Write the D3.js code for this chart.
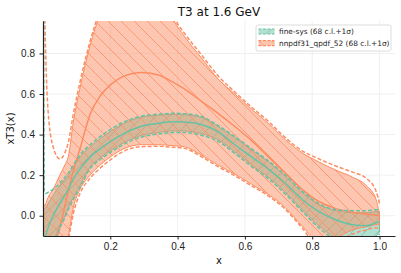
<!DOCTYPE html>
<html>
<head>
<meta charset="utf-8">
<script src="https://cdn.jsdelivr.net/npm/d3@7"></script>
<style>
  body { margin: 0; background: #fff; }
  svg { font-family: "DejaVu Sans", sans-serif; }
  .axis text { font-size: 10px; fill: #222; }
  .axis line, .axis path { stroke: #222; }
</style>
</head>
<body>
<svg id="chart"></svg>
<script>
// x grid shared by every curve
const xGrid = [0.001, 0.004, 0.008, 0.015, 0.03, 0.05, 0.065, 0.075, 0.09, 0.11, 0.14, 0.17, 0.2, 0.24, 0.29, 0.34,
    0.39, 0.42, 0.47, 0.52, 0.57, 0.62, 0.67, 0.72, 0.77, 0.82, 0.87, 0.92, 0.96, 0.99, 1.0];

// fine-sys
const fineCentral = [-0.2, -0.14, -0.1, -0.06, 0.0, 0.06, 0.1, 0.13, 0.18, 0.23, 0.29, 0.33, 0.365, 0.405, 0.44, 0.455,
    0.463, 0.462, 0.45, 0.415, 0.35, 0.29, 0.23, 0.16, 0.08, 0.02, -0.02, -0.045, -0.05, -0.035, -0.03];
const fineUp68 = [0.03, 0.035, 0.04, 0.06, 0.1, 0.15, 0.18, 0.2, 0.24, 0.29, 0.34, 0.38, 0.415, 0.455, 0.485, 0.495,
    0.5, 0.498, 0.485, 0.44, 0.385, 0.325, 0.265, 0.195, 0.115, 0.055, 0.025, 0.015, 0.015, 0.02, 0.02];
const fineLo68 = [-0.5, -0.4, -0.33, -0.25, -0.14, -0.05, 0.0, 0.04, 0.09, 0.15, 0.24, 0.285, 0.32, 0.36, 0.395, 0.41,
    0.418, 0.418, 0.405, 0.375, 0.315, 0.25, 0.19, 0.115, 0.03, -0.05, -0.11, -0.14, -0.14, -0.1, -0.08];
const fineUpStd = [1.5, 0.12, 0.11, 0.115, 0.13, 0.16, 0.19, 0.21, 0.25, 0.3, 0.35, 0.39, 0.425, 0.462, 0.49, 0.5,
    0.505, 0.503, 0.49, 0.445, 0.39, 0.33, 0.27, 0.2, 0.12, 0.06, 0.03, 0.025, 0.025, 0.03, 0.03];
const fineLoStd = [-0.52, -0.42, -0.34, -0.26, -0.15, -0.06, -0.01, 0.03, 0.08, 0.14, 0.232, 0.277, 0.312, 0.352, 0.387, 0.402,
    0.41, 0.41, 0.397, 0.367, 0.307, 0.242, 0.182, 0.107, 0.022, -0.06, -0.12, -0.15, -0.15, -0.11, -0.09];

// nnpdf31_qpdf_52
const nnCentral = [-0.6, -0.5, -0.42, -0.32, -0.18, -0.06, 0.05, 0.12, 0.22, 0.33, 0.5, 0.59, 0.645, 0.688, 0.706, 0.695,
    0.655, 0.625, 0.565, 0.505, 0.44, 0.37, 0.29, 0.21, 0.13, 0.07, 0.035, 0.017, 0.008, 0.002, 0.0];
const nnUp68 = [0.04, 0.05, 0.06, 0.09, 0.13, 0.2, 0.25, 0.29, 0.46, 0.63, 0.84, 1.0, 1.15, 1.28, 1.3, 1.18,
    0.96, 0.885, 0.78, 0.675, 0.6, 0.525, 0.455, 0.375, 0.31, 0.265, 0.225, 0.19, 0.15, 0.08, 0.0];
const nnLo68 = [-0.4, -0.38, -0.35, -0.32, -0.28, -0.22, -0.15, -0.1, 0.04, 0.13, 0.2, 0.25, 0.29, 0.33, 0.35, 0.35,
    0.345, 0.34, 0.3, 0.25, 0.205, 0.155, 0.105, 0.04, -0.05, -0.13, -0.11, -0.07, -0.055, -0.045, -0.045];
const nnUpStd = [1.5, 1.1, 0.8, 0.52, 0.34, 0.28, 0.31, 0.36, 0.5, 0.66, 0.86, 1.02, 1.17, 1.3, 1.32, 1.2,
    0.975, 0.9, 0.795, 0.69, 0.61, 0.535, 0.465, 0.385, 0.32, 0.28, 0.245, 0.215, 0.185, 0.12, 0.06];
const nnLoStd = [-0.5, -0.48, -0.45, -0.42, -0.37, -0.3, -0.18, -0.12, 0.01, 0.11, 0.185, 0.235, 0.275, 0.318, 0.34, 0.342,
    0.337, 0.332, 0.292, 0.242, 0.197, 0.147, 0.097, 0.032, -0.06, -0.15, -0.13, -0.09, -0.07, -0.06, -0.06];

const xTicks = [0.2, 0.4, 0.6, 0.8, 1.0];
const yTicks = [0.0, 0.2, 0.4, 0.6, 0.8];
const seriesNames = ["fine-sys (68 c.l.+1σ)", "nnpdf31_qpdf_52 (68 c.l.+1σ)"];

class BandChart {
    constructor(_config) {
        this.config = {
            parentElement: _config.parentElement,
            containerWidth: 401,
            containerHeight: 273,
            margin: { top: 21, right: 6, bottom: 37, left: 43 },
        };
        this.initVis();
    }

    initVis() {
        let vis = this;
        vis.width = vis.config.containerWidth - vis.config.margin.left - vis.config.margin.right;
        vis.height = vis.config.containerHeight - vis.config.margin.top - vis.config.margin.bottom;

        vis.xScale = d3.scaleLinear().domain([0, 1.046]).range([0, vis.width]);
        vis.yScale = d3.scaleLinear().domain([-0.1, 0.96]).range([vis.height, 0]);

        vis.svg = d3.select(vis.config.parentElement)
            .attr("width", vis.config.containerWidth)
            .attr("height", vis.config.containerHeight);

        const defs = vis.svg.append("defs");
        defs.append("clipPath").attr("id", "plot-clip")
            .append("rect").attr("width", vis.width).attr("height", vis.height);

        // hatches, like matplotlib '/' and '\\'
        const addHatch = (id, color, back, op) => {
            const p = defs.append("pattern").attr("id", id)
                .attr("patternUnits", "userSpaceOnUse").attr("width", 13).attr("height", 13);
            const d = back ? "M0,0L13,13M-2,11L2,15M11,-2L15,2" : "M0,13L13,0M-2,2L2,-2M11,15L15,11";
            p.append("path").attr("d", d).attr("stroke", color).attr("stroke-width", 0.8)
                .attr("stroke-opacity", op).attr("fill", "none");
        };
        addHatch("hatch-green", "#4f8a76", false, 0.45);
        addHatch("hatch-orange", "#fc8d62", true, 1);

        vis.chart = vis.svg.append("g")
            .attr("transform", `translate(${vis.config.margin.left},${vis.config.margin.top})`);

        // grid
        vis.chart.append("g").selectAll("line.gx").data(xTicks).join("line")
            .attr("x1", d => vis.xScale(d)).attr("x2", d => vis.xScale(d))
            .attr("y1", 0).attr("y2", vis.height)
            .attr("stroke", "#ececec").attr("stroke-width", 0.8);
        vis.chart.append("g").selectAll("line.gy").data(yTicks).join("line")
            .attr("y1", d => vis.yScale(d)).attr("y2", d => vis.yScale(d))
            .attr("x1", 0).attr("x2", vis.width)
            .attr("stroke", "#ececec").attr("stroke-width", 0.8);

        vis.plot = vis.chart.append("g").attr("clip-path", "url(#plot-clip)");
        vis.fillsG = vis.plot.append("g");
        vis.linesG = vis.plot.append("g");

        vis.xAxisG = vis.chart.append("g").attr("class", "axis").attr("transform", `translate(0,${vis.height})`);
        vis.yAxisG = vis.chart.append("g").attr("class", "axis");

        vis.svg.append("text")
            .attr("x", vis.config.margin.left + vis.width / 2).attr("y", 16)
            .attr("text-anchor", "middle").attr("font-size", 12).attr("fill", "#111")
            .text("T3 at 1.6 GeV");
        vis.svg.append("text")
            .attr("x", vis.config.margin.left + vis.width / 2).attr("y", 264)
            .attr("text-anchor", "middle").attr("font-size", 10).attr("fill", "#111")
            .text("x");
        vis.svg.append("text")
            .attr("transform", `translate(14,${vis.config.margin.top + vis.height / 2}) rotate(-90)`)
            .attr("text-anchor", "middle").attr("font-size", 10).attr("fill", "#111")
            .text("xT3(x)");
    }

    renderVis() {
        let vis = this;
        const series = [
            { name: seriesNames[0], color: "#66c2a5", hatch: "hatch-green",
              c: fineCentral, up: fineUp68, lo: fineLo68, upS: fineUpStd, loS: fineLoStd },
            { name: seriesNames[1], color: "#fc8d62", hatch: "hatch-orange",
              c: nnCentral, up: nnUp68, lo: nnLo68, upS: nnUpStd, loS: nnLoStd },
        ];

        const area = (s) => d3.area()
            .x((d, i) => vis.xScale(xGrid[i]))
            .y0((d, i) => vis.yScale(s.lo[i]))
            .y1((d, i) => vis.yScale(s.up[i]))
            .curve(d3.curveMonotoneX)(xGrid);
        const line = (vals) => d3.line()
            .x((d, i) => vis.xScale(xGrid[i]))
            .y((d, i) => vis.yScale(vals[i]))
            .curve(d3.curveMonotoneX)(xGrid);

        series.forEach(s => {
            vis.fillsG.append("path").attr("d", area(s))
                .attr("fill", s.color).attr("fill-opacity", 0.5)
                .attr("stroke", s.color).attr("stroke-width", 1);
            vis.fillsG.append("path").attr("d", area(s))
                .attr("fill", `url(#${s.hatch})`).attr("stroke", "none");
        });

        series.slice().reverse().forEach(s => {
            vis.linesG.append("path").attr("d", line(s.c))
                .attr("fill", "none").attr("stroke", s.color).attr("stroke-width", 1.5);
            [s.upS, s.loS].forEach(v => {
                vis.linesG.append("path").attr("d", line(v))
                    .attr("fill", "none").attr("stroke", s.color)
                    .attr("stroke-width", 1.5).attr("stroke-dasharray", "4,2");
            });
        });

        const xAxis = d3.axisBottom(vis.xScale).tickValues(xTicks).tickFormat(d3.format(".1f"))
            .tickSize(3.5).tickPadding(3).tickSizeOuter(0);
        const yAxis = d3.axisLeft(vis.yScale).tickValues(yTicks).tickFormat(d3.format(".1f"))
            .tickSize(3.5).tickPadding(4.5).tickSizeOuter(0);
        vis.xAxisG.call(xAxis);
        vis.yAxisG.call(yAxis);
        vis.svg.selectAll(".axis .domain").attr("stroke-width", 1.2);

        // legend
        const lg = vis.svg.append("g").attr("transform", "translate(256,25)");
        lg.append("rect").attr("width", 135).attr("height", 26).attr("rx", 2)
            .attr("fill", "#fff").attr("fill-opacity", 0.85)
            .attr("stroke", "#d4d4d4").attr("stroke-width", 0.8);
        series.forEach((s, i) => {
            const g = lg.append("g").attr("transform", `translate(2.5,${4 + i * 11.7})`);
            g.append("rect").attr("width", 16).attr("height", 5).attr("fill", s.color).attr("fill-opacity", 0.5);
            g.append("rect").attr("width", 16).attr("height", 5).attr("fill", `url(#${s.hatch})`);
            [0, 5].forEach(yy => g.append("line").attr("x1", 0).attr("x2", 16).attr("y1", yy).attr("y2", yy)
                .attr("stroke", s.color).attr("stroke-width", 1.2).attr("stroke-dasharray", "3,1.5"));
            lg.append("text").attr("x", 23).attr("y", 9.2 + i * 11.7)
                .attr("font-size", 7.4).attr("fill", "#222").text(s.name);
        });
    }
}

const chart = new BandChart({ parentElement: "#chart" });
chart.renderVis();
</script>
</body>
</html>
